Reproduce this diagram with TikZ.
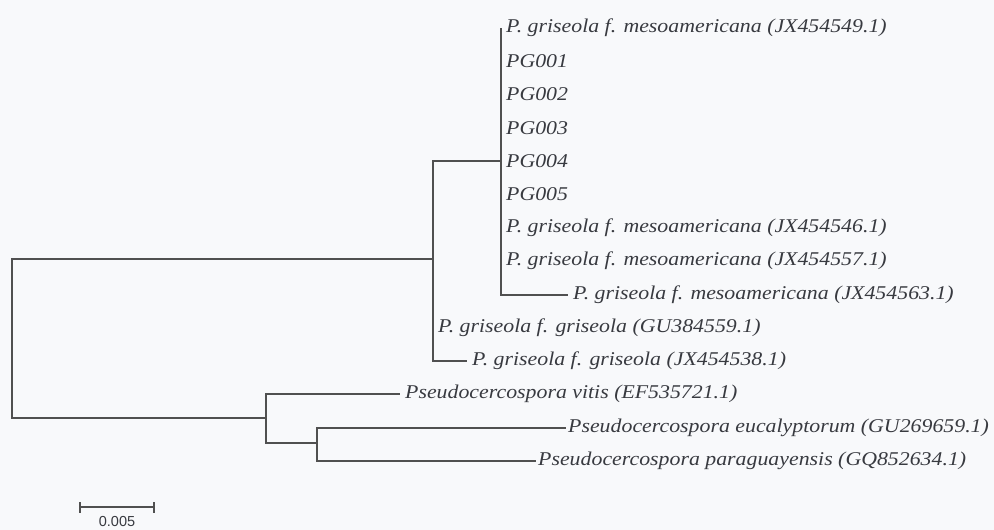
\documentclass[tikz,border=0pt]{standalone}
\usepackage{fontspec}
\setmainfont{Liberation Serif}
\newfontfamily\leaffont[FakeStretch=1.12]{Liberation Serif}
\newfontfamily\barfont{Liberation Sans}
\definecolor{bg}{HTML}{F8F9FB}
\definecolor{ln}{HTML}{505050}
\definecolor{tx}{HTML}{383A40}
\tikzset{
  branch/.style={draw=ln, line width=1.3pt},
  leaf/.style={anchor=west, inner sep=0pt, xshift=5pt, text=tx, font=\fontsize{19.5}{22}\leaffont\itshape},
  barlabel/.style={inner sep=0pt, text=tx, font=\fontsize{14.5}{16}\barfont}
}
\begin{document}
\begin{tikzpicture}[x=1pt, y=-1pt]
\fill[bg] (0,0) rectangle (994,530);
\useasboundingbox (0,0) rectangle (994,530);
% internal nodes
\coordinate (root) at (12,338);
\coordinate (nA) at (433,259);
\coordinate (nB) at (501,161);
\coordinate (nC) at (266,418);
\coordinate (nD) at (317,443);
% tips
\coordinate (t1) at (501,28);
\coordinate (t2) at (501,61);
\coordinate (t3) at (501,94.5);
\coordinate (t4) at (501,128);
\coordinate (t5) at (501,161);
\coordinate (t6) at (501,194);
\coordinate (t7) at (501,228);
\coordinate (t8) at (501,261);
\coordinate (t9) at (568,295);
\coordinate (t10) at (433,328);
\coordinate (t11) at (467,361);
\coordinate (t12) at (400,394);
\coordinate (t13) at (566,428);
\coordinate (t14) at (536,461);
% labels
\node[leaf] (l1) at (t1) {P. griseola f. mesoamericana (JX454549.1)};
\node[leaf] (l2) at (t2) {PG001};
\node[leaf] (l3) at (t3) {PG002};
\node[leaf] (l4) at (t4) {PG003};
\node[leaf] (l5) at (t5) {PG004};
\node[leaf] (l6) at (t6) {PG005};
\node[leaf] (l7) at (t7) {P. griseola f. mesoamericana (JX454546.1)};
\node[leaf] (l8) at (t8) {P. griseola f. mesoamericana (JX454557.1)};
\node[leaf] (l9) at (t9) {P. griseola f. mesoamericana (JX454563.1)};
\node[leaf] (l10) at (t10) {P. griseola f. griseola (GU384559.1)};
\node[leaf] (l11) at (t11) {P. griseola f. griseola (JX454538.1)};
\node[leaf] (l12) at (t12) {Pseudocercospora vitis (EF535721.1)};
\node[leaf,xshift=-3pt] (l13) at (t13) {Pseudocercospora eucalyptorum (GU269659.1)};
\node[leaf,xshift=-3pt] (l14) at (t14) {Pseudocercospora paraguayensis (GQ852634.1)};
% branches
\draw[branch] (root) |- (nA);
\draw[branch] (root) |- (nC);
\draw[branch] (nA) |- (nB);
\draw[branch] (nA) |- (t10);
\draw[branch] (nA) |- (t11);
\draw[branch] (nB) |- (t1);
\draw[branch] (nB) |- (t9);
\draw[branch] (nC) |- (t12);
\draw[branch] (nC) |- (nD);
\draw[branch] (nD) |- (t13);
\draw[branch] (nD) |- (t14);
% scale bar
\coordinate (sb1) at (80,507);
\coordinate (sb2) at (154,507);
\draw[branch] (sb1) -- (sb2);
\draw[branch] ([yshift=-5.5pt]sb1) -- ([yshift=5.5pt]sb1);
\draw[branch] ([yshift=-5.5pt]sb2) -- ([yshift=5.5pt]sb2);
\node[barlabel] (sbl) at (117,522) {0.005};
\end{tikzpicture}
\end{document}
